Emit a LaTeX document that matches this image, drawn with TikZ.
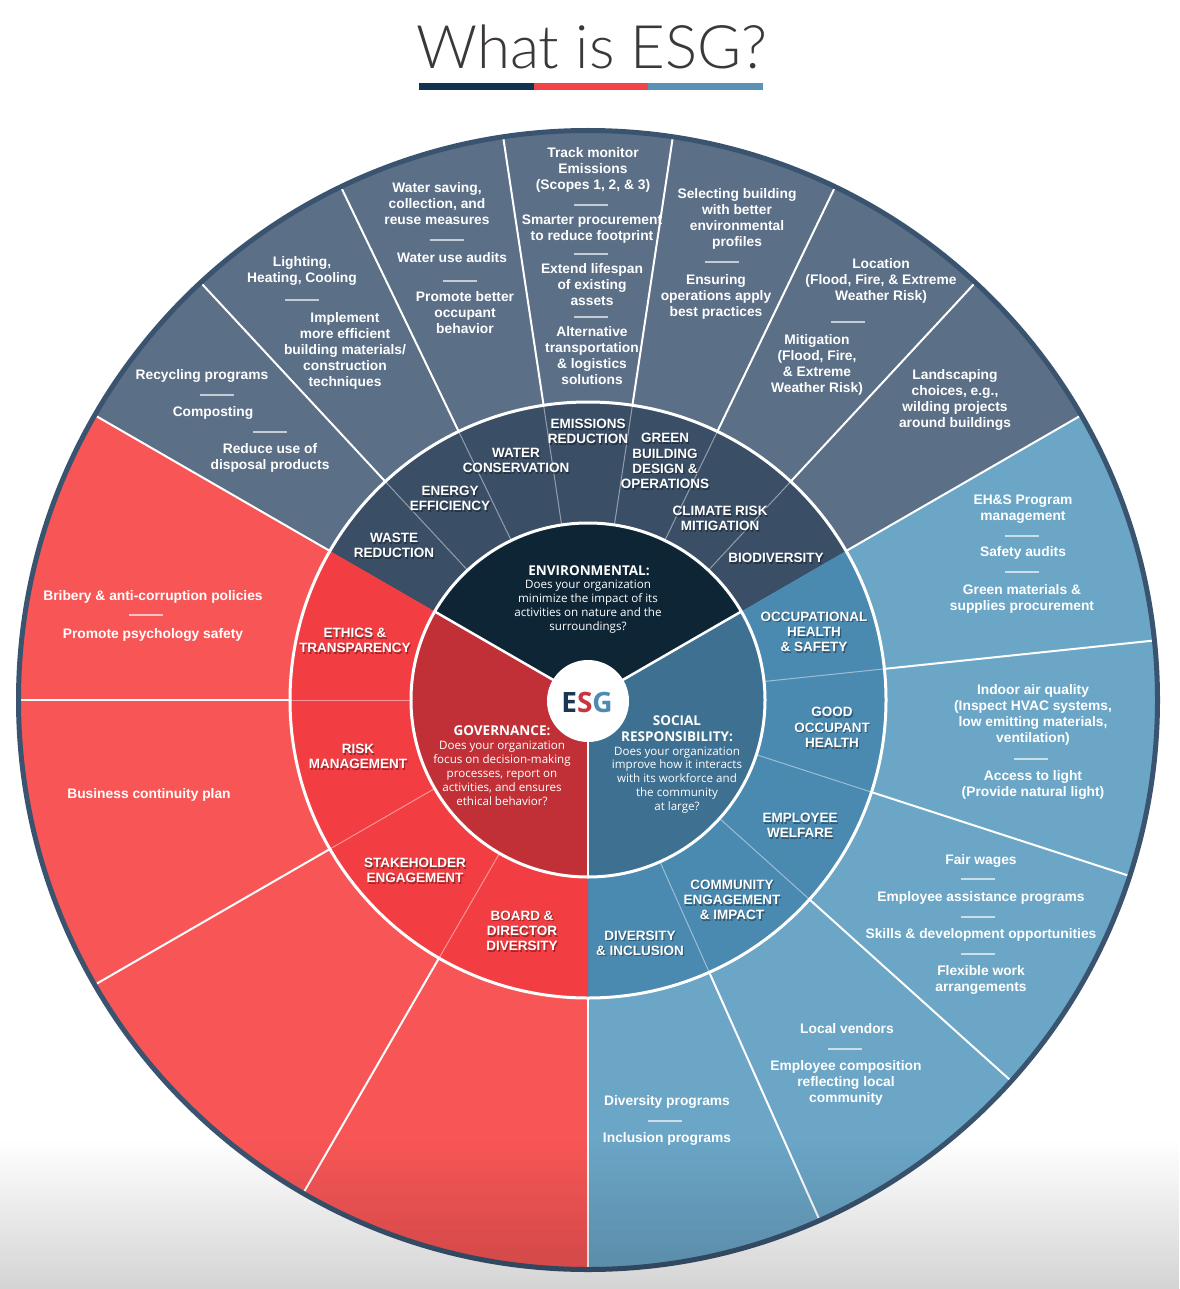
\documentclass[tikz,border=0pt]{standalone}
\usepackage{fontspec}
\setmainfont{Liberation Sans}
\newfontfamily\osans{Open Sans}
\newfontfamily\titlefont{Lato Light}
\usetikzlibrary{calc}
\definecolor{envO}{HTML}{5B6F87}
\definecolor{envM}{HTML}{3A4E66}
\definecolor{envC}{HTML}{0E2536}
\definecolor{socO}{HTML}{6BA6C7}
\definecolor{socM}{HTML}{4A89B0}
\definecolor{socC}{HTML}{3E7092}
\definecolor{govO}{HTML}{F85656}
\definecolor{govM}{HTML}{F23D42}
\definecolor{govC}{HTML}{C03036}
\definecolor{rimc}{HTML}{3A5470}
\definecolor{titlegray}{HTML}{3D3838}
\definecolor{barA}{HTML}{12324F}
\definecolor{barB}{HTML}{F04448}
\definecolor{barC}{HTML}{5A93B6}
\definecolor{logoE}{HTML}{1D3653}
\definecolor{logoS}{HTML}{C8363D}
\definecolor{logoG}{HTML}{4D8BB4}
\newcommand\piesec[4]{\fill[#1] (0,0) -- (#2:#4pt) arc[start angle=#2,end angle=#3,radius=#4pt] -- cycle;}
\newcommand\sepmark[2]{\draw[sepl] (#1-17,#2) -- (#1+17,#2);}
\newcommand\midlab[3]{\node[midsh] (#1s) at ($(#2)+(1.2,1.6)$) {#3};\node[mid] (#1) at (#2) {#3};}
\begin{document}
\begin{tikzpicture}[x=1pt,y=-1pt,
  outer/.style={text=white,font=\bfseries\fontsize{13.8}{16}\selectfont,align=center,inner sep=0pt},
  mid/.style={text=white,font=\bfseries\fontsize{13.5}{15.3}\selectfont,align=center,inner sep=0pt},
  midsh/.style={mid,text=black,text opacity=0.35},
  corebody/.style={text=white,font=\osans\fontsize{11.6}{13.9}\selectfont,align=center,inner sep=0pt},
  corehead/.style={text=white,font=\osans\bfseries\fontsize{13.5}{16}\selectfont,align=center,inner sep=0pt},
  sepl/.style={white,opacity=0.65,line width=2pt},
  oline/.style={white,line width=2pt},
  mline/.style={white,opacity=0.45,line width=1pt},
  cline/.style={white,line width=2.5pt}]
\useasboundingbox (0,0) rectangle (1179,1289);
\fill[white] (0,0) rectangle (1179,1289);
% title
\node[font=\titlefont\fontsize{60}{60}\selectfont,text=titlegray,inner sep=0pt] (title) at (592,47) {What is ESG?};
\fill[barA] (419,83) rectangle (534,90);
\fill[barB] (534,83) rectangle (648,90);
\fill[barC] (648,83) rectangle (763,90);
% wheel
\begin{scope}[shift={(588,700)}]
  \piesec{envO}{30}{150}{569}
  \piesec{socO}{-90}{30}{569}
  \piesec{govO}{150}{270}{569}
  \piesec{envM}{30}{150}{298}
  \piesec{socM}{-90}{30}{298}
  \piesec{govM}{150}{270}{298}
  \piesec{envC}{30}{150}{177}
  \piesec{socC}{-90}{30}{177}
  \piesec{govC}{150}{270}{177}
  % outer ring radial lines
  \foreach \a in {150,132.857,115.714,98.571,81.429,64.286,47.143,30,6,-18,-42,-66,-90,180,210,240}
    \draw[oline] (\a:298pt) -- (\a:569pt);
  % middle ring thin lines
  \foreach \a in {132.857,115.714,98.571,81.429,64.286,47.143,6,-18,-42,-66,180,210,240}
    \draw[mline] (\a:177pt) -- (\a:298pt);
  % core lines
  \foreach \a in {30,150,270}
    \draw[cline] (\a:40pt) -- (\a:177pt);
  \draw[white,line width=3pt] (0,0) circle[radius=177pt];
  \draw[white,line width=3pt] (0,0) circle[radius=298pt];
  \draw[rimc,line width=5pt] (0,0) circle[radius=569.5pt];
\end{scope}
% logo
\fill[white] (588,701) circle[radius=41pt];
\node[font=\osans\bfseries\fontsize{28}{28}\selectfont,inner sep=0pt] (logo) at (587,702) {\textcolor{logoE}{E}\textcolor{logoS}{S}\textcolor{logoG}{G}};
% core texts
\node[corehead] (ch1) at (589,571) {ENVIRONMENTAL:};
\node[corebody] (cb1) at (588,606.5) {Does your organization\\minimize the impact of its\\activities on nature and the\\surroundings?};
\node[corehead] (ch2) at (502,731) {GOVERNANCE:};
\node[corebody] (cb2) at (502,773.5) {Does your organization\\focus on decision-making\\processes, report on\\activities, and ensures\\ethical behavior?};
\node[corehead] (ch3) at (677,729) {SOCIAL\\RESPONSIBILITY:};
\node[corebody] (cb3) at (677,780) {Does your organization\\improve how it interacts\\with its workforce and\\the community\\at large?};
% middle labels
\midlab{m1}{394,545.5}{WASTE\\REDUCTION}
\midlab{m2}{450,498.5}{ENERGY\\EFFICIENCY}
\midlab{m3}{516,460.5}{WATER\\CONSERVATION}
\midlab{m4}{588,431.5}{EMISSIONS\\REDUCTION}
\midlab{m5}{665,461}{GREEN\\BUILDING\\DESIGN \&\\OPERATIONS}
\midlab{m6}{720,518.5}{CLIMATE RISK\\MITIGATION}
\midlab{m7}{776,558}{BIODIVERSITY}
\midlab{m8}{814,632}{OCCUPATIONAL\\HEALTH\\\& SAFETY}
\midlab{m9}{832,727.5}{GOOD\\OCCUPANT\\HEALTH}
\midlab{m10}{800,825.5}{EMPLOYEE\\WELFARE}
\midlab{m11}{732,900}{COMMUNITY\\ENGAGEMENT\\\& IMPACT}
\midlab{m12}{640,943}{DIVERSITY\\\& INCLUSION}
\midlab{m13}{522,931}{BOARD \&\\DIRECTOR\\DIVERSITY}
\midlab{m14}{415,870.5}{STAKEHOLDER\\ENGAGEMENT}
\midlab{m15}{358,756.5}{RISK\\MANAGEMENT}
\midlab{m16}{355,640.5}{ETHICS \&\\TRANSPARENCY}
% outer: environmental
\node[outer] (e1a) at (202,376) {Recycling programs};
\node[outer] (e1b) at (213,413) {Composting};
\node[outer] (e1c) at (270,458) {Reduce use of\\disposal products};
\node[outer] (e2a) at (302,271) {Lighting,\\Heating, Cooling};
\node[outer] (e2b) at (345,351) {Implement\\more efficient\\building materials/\\construction\\techniques};
\node[outer] (e3a) at (437,204) {Water saving,\\collection, and\\reuse measures};
\node[outer] (e3b) at (452,258) {Water use audits};
\node[outer] (e3c) at (465,313) {Promote better\\occupant\\behavior};
\node[outer] (e4a) at (593,169.5) {Track monitor\\Emissions\\(Scopes 1, 2, \& 3)};
\node[outer] (e4b) at (592,229) {Smarter procurement\\to reduce footprint};
\node[outer] (e4c) at (592,285) {Extend lifespan\\of existing\\assets};
\node[outer] (e4d) at (592,356) {Alternative\\transportation\\\& logistics\\solutions};
\node[outer] (e5a) at (737,219) {Selecting building\\with better\\environmental\\profiles};
\node[outer] (e5b) at (716,297) {Ensuring\\operations apply\\best practices};
\node[outer] (e6a) at (881,281) {Location\\(Flood, Fire, \& Extreme\\Weather Risk)};
\node[outer] (e6b) at (817,364.5) {Mitigation\\(Flood, Fire,\\\& Extreme\\Weather Risk)};
\node[outer] (e7a) at (955,400) {Landscaping\\choices, e.g.,\\wilding projects\\around buildings};
% outer: social
\node[outer] (s1a) at (1023,509) {EH\&S Program\\management};
\node[outer] (s1b) at (1023,553) {Safety audits};
\node[outer] (s1c) at (1022,599) {Green materials \&\\supplies procurement};
\node[outer] (s2a) at (1033,715) {Indoor air quality\\(Inspect HVAC systems,\\low emitting materials,\\ventilation)};
\node[outer] (s2b) at (1033,785) {Access to light\\(Provide natural light)};
\node[outer] (s3a) at (981,861) {Fair wages};
\node[outer] (s3b) at (981,898) {Employee assistance programs};
\node[outer] (s3c) at (981,935) {Skills \& development opportunities};
\node[outer] (s3d) at (981,980) {Flexible work\\arrangements};
\node[outer] (s4a) at (847,1029) {Local vendors};
\node[outer] (s4b) at (846,1083) {Employee composition\\reflecting local\\community};
\node[outer] (s5a) at (667,1102) {Diversity programs};
\node[outer] (s5b) at (667,1139) {Inclusion programs};
% outer: governance
\node[outer] (g1a) at (153,597) {Bribery \& anti-corruption policies};
\node[outer] (g1b) at (153,635) {Promote psychology safety};
\node[outer] (g2a) at (149,795) {Business continuity plan};
% separators
\sepmark{217}{395}\sepmark{270}{432}\sepmark{302}{300}
\sepmark{447}{240}\sepmark{460}{281}
\sepmark{591}{205}\sepmark{591}{253.5}\sepmark{591}{317}
\sepmark{722}{262}\sepmark{848}{322}
\sepmark{1022}{536}\sepmark{1022}{572}\sepmark{1031}{759}
\sepmark{978}{879}\sepmark{978}{917}\sepmark{978}{954}
\sepmark{845}{1049}\sepmark{665}{1121}\sepmark{146}{615}
% bottom fog
\foreach \i [evaluate=\i as \op using {0.17*(\i+0.5)/30}] in {0,...,29}
  \fill[black,fill opacity=\op] (0,{1140+5*\i}) rectangle (1179,{1145+5*\i});
\end{tikzpicture}
\end{document}
